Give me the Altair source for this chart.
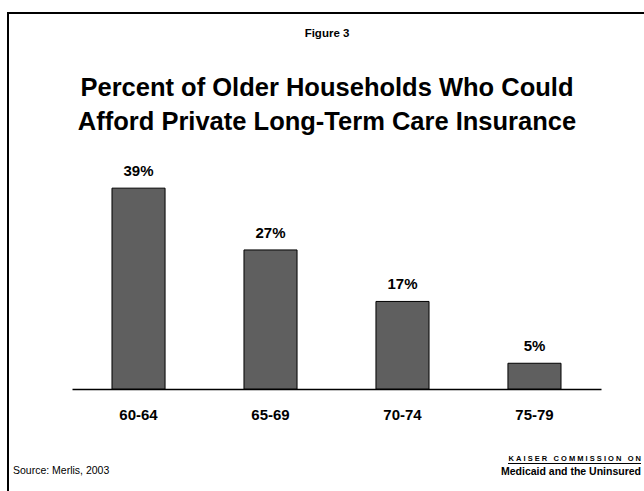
import altair as alt
import pandas as pd

categories = ["60-64", "65-69", "70-74", "75-79"]
values = [39, 27, 17, 5]
labels = ["39%", "27%", "17%", "5%"]

fig_label = ["Figure 3"]
title_lines = ["Percent of Older Households Who Could", "Afford Private Long-Term Care Insurance"]
source_text = ["Source: Merlis, 2003"]
NB = "\u00a0"
logo_top = [NB.join("KAISER") + NB * 3 + NB.join("COMMISSION") + NB * 3 + NB.join("ON")]
logo_bottom = ["Medicaid and the Uninsured"]

FONT = "Liberation Sans"

df = pd.DataFrame({"age": categories, "pct": values, "label": labels})

xenc = alt.X("age:N", sort=categories, title=None,
             scale=alt.Scale(paddingInner=0.598, paddingOuter=0.303),
             axis=alt.Axis(labelAngle=0, labelFont=FONT, labelFontSize=15, labelFontWeight="bold",
                           labelColor="black", labelPadding=18, ticks=False,
                           domainColor="black", domainWidth=1.5))
yenc = alt.Y("pct:Q", scale=alt.Scale(domain=[0, 40]), axis=None)

bars = alt.Chart(df).mark_bar(color="#5f5f5f", stroke="black", strokeWidth=1).encode(x=xenc, y=yenc)
vals = alt.Chart(df).mark_text(font=FONT, fontSize=15, fontWeight="bold", baseline="bottom", dy=-9,
                               color="black").encode(x=alt.X("age:N", sort=categories), y="pct:Q", text="label:N")

def txt(lines, x, y, size, weight="bold", align="center", baseline="middle"):
    return alt.Chart(pd.DataFrame({"t": lines})).mark_text(
        font=FONT, fontSize=size, fontWeight=weight, align=align, baseline=baseline, color="black"
    ).encode(x=alt.value(x), y=alt.value(y), text="t:N")

fig_t = txt(fig_label, 255, -149, 11.5)
t1 = txt(title_lines[:1], 255, -95, 25.5)
t2 = txt(title_lines[1:], 255, -61, 25.5)
src = txt(source_text, -59, 288, 10.5, weight="normal", align="left")
lg1 = txt(logo_top, 569, 276, 7.5, align="right")
lg2 = txt(logo_bottom, 569, 289, 10.5, align="right")

border_df = pd.DataFrame({"k": [0]})
left_border = alt.Chart(border_df).mark_rule(color="black", strokeWidth=2).encode(
    x=alt.value(-64), y=alt.value(-170), y2=alt.value(310))
top_border = alt.Chart(border_df).mark_rule(color="black", strokeWidth=2).encode(
    x=alt.value(-65), x2=alt.value(575), y=alt.value(-170))
underline = alt.Chart(border_df).mark_rule(color="black", strokeWidth=1).encode(
    x=alt.value(436), x2=alt.value(569), y=alt.value(280.5))

chart = alt.layer(bars, vals, fig_t, t1, t2, src, lg1, lg2, left_border, top_border, underline).properties(
    width=529, height=206,
    autosize=alt.AutoSizeParams(type="none"),
    padding={"left": 72, "top": 183, "right": 43, "bottom": 102},
    background="white",
).configure_view(stroke=None)

chart.save("out.html", embed_options={"renderer": "svg", "actions": False})
